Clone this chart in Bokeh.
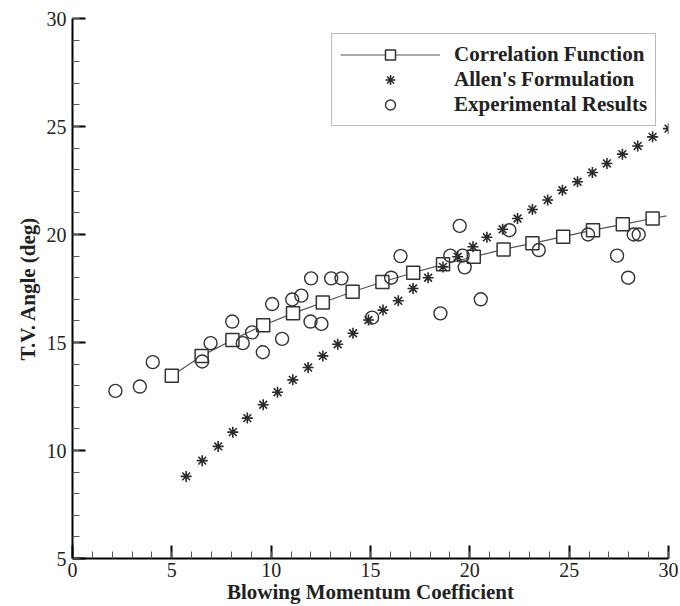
from bokeh.plotting import figure
from bokeh.models import SingleIntervalTicker, Legend, LegendItem, Range1d
from bokeh.embed import file_html
from bokeh.resources import INLINE

# Correlation function (markers)
corr_x = [5.0, 6.5, 8.05, 9.6, 11.1, 12.6, 14.1, 15.6, 17.15, 18.65, 20.2, 21.7, 23.15, 24.7, 26.2, 27.7, 29.2]
corr_y = [13.46, 14.38, 15.12, 15.8, 16.35, 16.85, 17.35, 17.8, 18.23, 18.62, 18.97, 19.31, 19.59, 19.9, 20.2, 20.47, 20.74]
# line extends slightly past last marker
corr_line_x = corr_x + [29.9]
corr_line_y = corr_y + [20.86]

# Allen's formulation
allen_x = [5.72, 6.53, 7.33, 8.07, 8.8, 9.6, 10.32, 11.09, 11.86, 12.6, 13.35, 14.12, 14.9, 15.63, 16.4,
           17.14, 17.9, 18.65, 19.39, 20.16, 20.86, 21.65, 22.4, 23.15, 23.92, 24.66, 25.42, 26.17, 26.9,
           27.68, 28.45, 29.2, 30.0]
allen_y = [8.8, 9.53, 10.19, 10.85, 11.5, 12.12, 12.7, 13.27, 13.84, 14.38, 14.92, 15.43, 16.04, 16.5, 16.93,
           17.5, 18.0, 18.5, 18.97, 19.43, 19.87, 20.24, 20.74, 21.16, 21.6, 22.05, 22.44, 22.87, 23.29,
           23.72, 24.1, 24.52, 24.9]

# Experimental results
exp_x = [2.16, 3.39, 4.04, 6.53, 6.95, 8.04, 8.57, 9.04, 9.58, 10.05, 10.55, 11.06, 11.52, 12.01, 11.98,
         12.53, 13.02, 13.54, 15.08, 16.04, 16.51, 18.52, 19.02, 19.49, 19.64, 19.74, 20.55, 21.99, 23.47,
         25.95, 27.41, 27.97, 28.25, 28.5]
exp_y = [12.76, 12.96, 14.09, 14.12, 14.97, 15.97, 14.97, 15.47, 14.55, 16.78, 15.17, 16.99, 17.17, 17.97, 15.97,
         15.86, 17.97, 17.97, 16.15, 18.0, 19.0, 16.35, 19.02, 20.4, 19.02, 18.48, 17.0, 20.2, 19.28,
         20.0, 19.02, 18.0, 20.0, 20.0]

x_label = "Blowing Momentum Coefficient"
y_label = "T.V. Angle (deg)"
labels = ["Correlation Function", "Allen's Formulation", "Experimental Results"]

FONT = "Liberation Serif"
INK = "#222222"

p = figure(width=680, height=606, output_backend="svg", toolbar_location=None,
           x_range=Range1d(0, 30), y_range=Range1d(5, 30),
           min_border_left=72, min_border_right=12, min_border_top=18, min_border_bottom=47)
p.outline_line_color = None
p.grid.visible = False
p.background_fill_color = "white"
p.border_fill_color = "white"

p.xaxis.ticker = SingleIntervalTicker(interval=5, num_minor_ticks=5)
p.yaxis.ticker = SingleIntervalTicker(interval=5, num_minor_ticks=5)
for ax in (p.xaxis[0], p.yaxis[0]):
    ax.axis_line_width = 2
    ax.axis_line_color = "black"
    ax.major_tick_in = 13
    ax.major_tick_out = 0
    ax.minor_tick_in = 7
    ax.minor_tick_out = 0
    ax.major_tick_line_width = 2
    ax.major_tick_line_color = "black"
    ax.minor_tick_line_width = 1
    ax.minor_tick_line_color = "#555555"
    ax.major_label_text_font = FONT
    ax.major_label_text_font_size = "20px"
    ax.major_label_text_color = INK
    ax.axis_label_text_font = FONT
    ax.axis_label_text_font_size = "21px"
    ax.axis_label_text_font_style = "bold"
    ax.axis_label_text_color = INK
p.xaxis.axis_label = x_label
p.yaxis.axis_label = y_label
p.xaxis.major_label_standoff = 4
p.xaxis.axis_label_standoff = 0
p.yaxis.major_label_standoff = 6
p.yaxis.axis_label_standoff = 4

line_r = p.line(corr_line_x, corr_line_y, line_color="#555555", line_width=1.2)
sq_r = p.scatter(corr_x, corr_y, marker="square", size=13, fill_color="white",
                 line_color="#333333", line_width=1.5)
st_r = p.scatter(allen_x, allen_y, marker="asterisk", size=11,
                 line_color="#2a2a2a", line_width=1.6)
ci_r = p.scatter(exp_x, exp_y, marker="circle", size=13, fill_alpha=0,
                 line_color="#333333", line_width=1.4)

legend = Legend(items=[
    LegendItem(label=labels[0], renderers=[line_r, sq_r]),
    LegendItem(label=labels[1], renderers=[st_r]),
    LegendItem(label=labels[2], renderers=[ci_r]),
], location=(259, 432))
legend.label_text_font = FONT
legend.label_text_font_size = "21px"
legend.label_text_font_style = "bold"
legend.label_text_color = INK
legend.glyph_width = 100
legend.glyph_height = 25
legend.label_height = 25
legend.spacing = 0
legend.padding = 8
legend.margin = 0
legend.label_standoff = 14
legend.border_line_color = "#777777"
legend.border_line_width = 1.5
legend.background_fill_color = "white"
legend.background_fill_alpha = 1
p.add_layout(legend, "center")

open("out.html", "w").write(file_html(p, INLINE))
